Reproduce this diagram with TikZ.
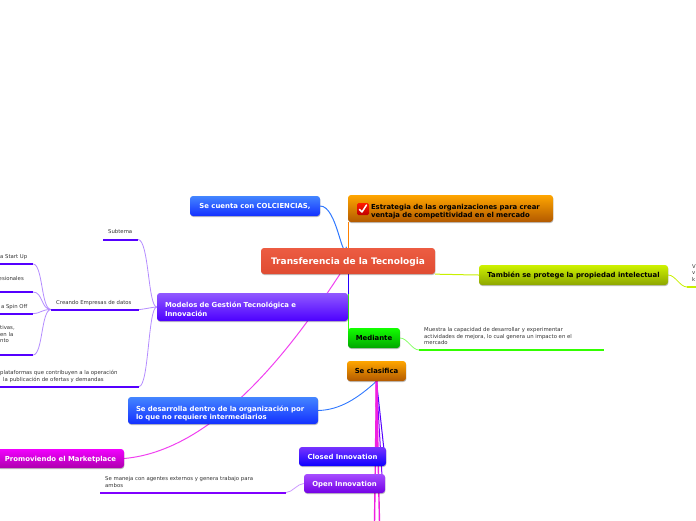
\documentclass[tikz,border=0pt]{standalone}
\usepackage{fontspec}
\setmainfont{DejaVu Sans}
\usetikzlibrary{shadows}
\pgfdeclarelayer{bg}
\pgfsetlayers{bg,main}
\definecolor{cblue}{HTML}{2F78FF}
\definecolor{cpurple}{HTML}{5500FF}
\definecolor{lpurple}{HTML}{B48CFF}
\definecolor{cmag}{HTML}{F040F0}
\definecolor{cmagb}{HTML}{F020E0}
\definecolor{cgreen}{HTML}{33FF00}
\definecolor{clime}{HTML}{C8F000}
\definecolor{cviolet}{HTML}{8000FF}
\definecolor{csalmonA}{HTML}{EC5C42}
\definecolor{csalmonB}{HTML}{E04C32}
\tikzset{
  topic/.style={rounded corners=3pt,inner sep=0pt,align=left,text=white,text depth=0pt,
    font=\bfseries\fontsize{6.9}{8.4}\selectfont,
    drop shadow={shadow xshift=0.4pt,shadow yshift=-1pt,fill=black,opacity=.25}},
  twolines/.style={text depth=4pt},
  blacktext/.style={text=black},
  tblue/.style={topic,top color=cblue!90!white,bottom color=cblue!40!blue},
  tpurple/.style={topic,top color=cpurple!65!white,bottom color=cpurple!90!blue},
  torange/.style={topic,blacktext,top color=orange!70!yellow,bottom color=orange!70!black},
  small/.style={inner sep=0pt,align=left,anchor=north west,text=black!80,
    font=\fontsize{5.35}{6.8}\selectfont},
  rulepurple/.style={line width=2pt,draw=cpurple},
  link/.style={line width=.8pt,draw=lpurple},
}
\begin{document}
\begin{tikzpicture}[x=1pt,y=-1pt]
\useasboundingbox (0,0) rectangle (696,520);
% topics
\node[topic,top color=csalmonA,bottom color=csalmonB,font=\bfseries\fontsize{9}{10}\selectfont,
  minimum width=174pt,minimum height=26pt] (cen) at (348,261) {Transferencia de la Tecnologia};
\node[tblue,minimum width=130pt,minimum height=20pt] (col) at (255,206) {Se cuenta con COLCIENCIAS,};
\node[torange,twolines,text width=205pt,minimum height=27pt] (est) at (450.5,208.5)
  {\hspace*{23pt}Estrategia de las organizaciones para crear\\\hspace*{23pt}ventaja de competitividad en el mercado};
\node[rounded corners=1.5pt,top color=red!80!orange,bottom color=red!75!black,minimum size=12pt,inner sep=0pt] (ico) at (363,209) {};
\node[topic,blacktext,top color=lime!60!yellow!95!black,bottom color=lime!60!yellow!65!black,minimum width=189pt,minimum height=20pt] (tam) at (573.5,275) {También se protege la propiedad intelectual};
\node[tpurple,twolines,inner xsep=8pt,text width=175pt,minimum height=28pt] (mod) at (252.5,307)
  {Modelos de Gestión Tecnológica e\\Innovación};
\node[topic,blacktext,top color=green!90!lime,bottom color=green!65!black,minimum width=52pt,minimum height=20pt] (med) at (374,338) {Mediante};
\node[torange,minimum width=59pt,minimum height=20pt] (cla) at (376.5,371) {Se clasifica};
\node[tblue,twolines,inner xsep=8pt,text width=174pt,minimum height=27pt] (des) at (223,410.5)
  {Se desarrolla dentro de la organización por\\lo que no requiere intermediarios};
\node[topic,top color=magenta!90!cviolet,bottom color=magenta!68!black,minimum width=127pt,minimum height=19pt] (pro) at (60.5,458.5) {Promoviendo el Marketplace};
\node[topic,top color=cpurple!80!white,bottom color=blue!90!cviolet,minimum width=87pt,minimum height=19pt] (clo) at (342.5,456.5) {Closed Innovation};
\node[topic,top color=cviolet!70!white,bottom color=cviolet!90!black,minimum width=81pt,minimum height=19pt] (ope) at (344.5,483.5) {Open Innovation};
% small texts
\node[small] (tsub) at (108,229.5) {Subtema};
\node[small] (tcre) at (56,300) {Creando Empresas de datos};
\node[small,anchor=north east] (tsta) at (27.5,254) {a Start Up};
\node[small,anchor=north east] (tesi) at (24,276.5) {esionales};
\node[small,anchor=north east] (tspi) at (27.5,304) {a Spin Off};
\node[small] (ttiv) at (0,325) {tivas,\\en la\\nto};
\node[small] (tpla) at (0,370) {plataformas que contribuyen a la operación\\\hspace*{3pt}la publicación de ofertas y demandas};
\node[small] (tmue) at (424,327) {Muestra la capacidad de desarrollar y experimentar\\actividades de mejora, lo cual genera un impacto en el\\mercado};
\node[small] (tven) at (692,264) {V\\v\\k};
\node[small] (tman) at (105,476) {Se maneja con agentes externos y genera trabajo para\\ambos};
% rule ends
\coordinate (subL) at (103,239.5); \coordinate (subR) at (138,239.5);
\coordinate (creL) at (51,309.5);  \coordinate (creR) at (139,309.5);
\coordinate (staL) at (-3,264);    \coordinate (staR) at (33,264);
\coordinate (esiL) at (-3,292);    \coordinate (esiR) at (33,292);
\coordinate (spiL) at (-3,313.5);  \coordinate (spiR) at (33,313.5);
\coordinate (tivL) at (-3,355);    \coordinate (tivR) at (33,355);
\coordinate (plaL) at (-3,386.5);  \coordinate (plaR) at (139,386.5);
\coordinate (mueL) at (419,350);   \coordinate (mueR) at (604,350);
\coordinate (venL) at (687,287);   \coordinate (venR) at (699,287);
\coordinate (manL) at (100,492.5); \coordinate (manR) at (286,492.5);
\coordinate (botA) at (374.5,523); \coordinate (botB) at (379.5,523);
\begin{pgfonlayer}{bg}
\draw[line width=1pt,draw=cblue] ([xshift=-1.5pt]cen.north) ++(0,-1) to[out=-105,in=0,looseness=.9] (col.east);
\draw[line width=1pt,draw=orange] (348,248) -- (348,222);
\draw[line width=1pt,draw=clime] (cen.south east) to[out=0,in=180,looseness=.5] (tam.west);
\draw[line width=1.6pt,draw=blue!70!cviolet] (348.5,274) -- (348.5,294);
\draw[line width=1pt,draw=cgreen] (348.5,294) -- (348.5,330);
\draw[line width=1pt,draw=cmag] (340,274) .. controls (300,335) and (220,450) .. (pro.east);
\draw[line width=.9pt,draw=cblue] (des.east) .. controls (340,410) and (358,398) .. (cla.south);
\draw[link,draw=cgreen!60!white] (med.east) to[out=0,in=180,looseness=.8] (mueL);
\draw[link,draw=clime] (tam.east) to[out=0,in=180,looseness=.8] (venL);
\draw[link,draw=cviolet!40!white] (ope.west) to[out=180,in=0,looseness=.8] (manR);
\draw[link] (mod.west) to[out=180,in=0,looseness=.5] (creR);
\draw[link] (mod.west) .. controls (148,307) and (149,239.5) .. (subR);
\draw[link] (mod.west) .. controls (148,307) and (149,386.5) .. (plaR);
\draw[link] (creL) .. controls (41,309.5) and (43,264) .. (staR);
\draw[link] (creL) .. controls (41,309.5) and (43,292) .. (esiR);
\draw[link] (creL) .. controls (41,309.5) and (41,313.5) .. (spiR);
\draw[link] (creL) .. controls (41,309.5) and (43,355) .. (tivR);
\draw[rulepurple] (subL) -- (subR);
\draw[rulepurple] (creL) -- (creR);
\draw[rulepurple] (staL) -- (staR);
\draw[rulepurple] (esiL) -- (esiR);
\draw[rulepurple] (spiL) -- (spiR);
\draw[rulepurple] (tivL) -- (tivR);
\draw[rulepurple] (plaL) -- (plaR);
\draw[line width=2pt,draw=cgreen] (mueL) -- (mueR);
\draw[line width=2pt,draw=clime] (venL) -- (venR);
\draw[line width=2pt,draw=cviolet] (manL) -- (manR);
% bundle below Se clasifica
\draw[line width=1pt,draw=cpurple] (cla.south) -- (384,450);
\draw[line width=1pt,draw=cviolet] (cla.south) -- (382,476);
\draw[line width=1.4pt,draw=cmagb] (cla.south) -- (botA);
\draw[line width=1.4pt,draw=cmagb] (cla.south) -- (botB);
\draw[line width=2.4pt,draw=cmagb] (cla.south) -- (377,447);
\end{pgfonlayer}
\draw[white,line width=1.5pt,line cap=round,line join=round] ([shift={(-3.5,0.5)}]ico.center) -- ([shift={(-1,3)}]ico.center) -- ([shift={(3.5,-4)}]ico.center);
\end{tikzpicture}
\end{document}
